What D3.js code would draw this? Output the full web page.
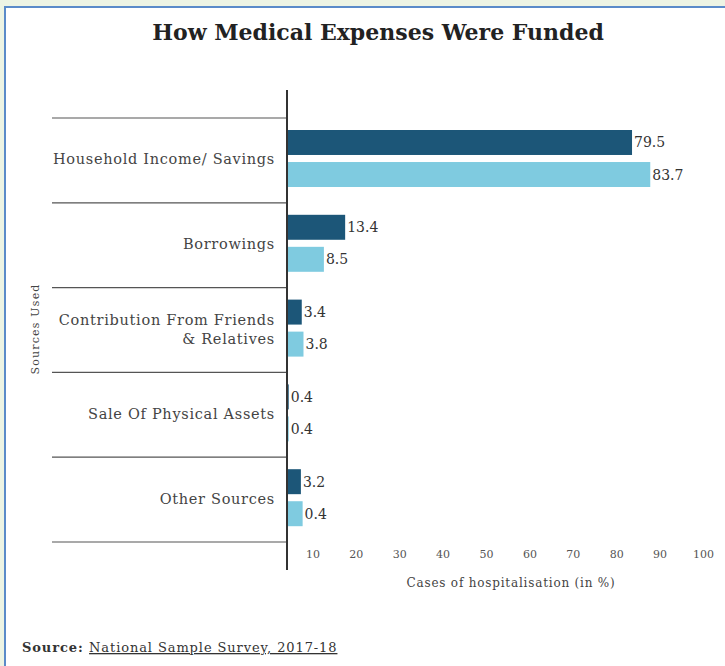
<!DOCTYPE html>
<html>
<head>
<meta charset="utf-8">
<script src="https://cdn.jsdelivr.net/npm/d3@7"></script>
<style>
  html, body { margin: 0; padding: 0; background: #edf4e4; }
  #frame {
    position: absolute; left: 4px; top: 6px; width: 721px; height: 660px;
    background: #ffffff; border-left: 2px solid #5b8bc9; border-top: 2px solid #5b8bc9;
    box-sizing: border-box;
  }
  svg { position: absolute; left: 0; top: 0; }
  text { font-family: "DejaVu Serif", "Liberation Serif", serif; }
</style>
</head>
<body>
<div id="frame"></div>
<svg id="chart"></svg>
<script>
// data
const categories = [
  "Household Income/ Savings",
  "Borrowings",
  "Contribution From Friends & Relatives",
  "Sale Of Physical Assets",
  "Other Sources"
];
const seriesKeys = ["dark", "light"];
const darkValues = [79.5, 13.4, 3.4, 0.4, 3.2];
const lightValues = [83.7, 8.5, 3.8, 0.4, 3.6];
const darkLabels = ["79.5", "13.4", "3.4", "0.4", "3.2"];
const lightLabels = ["83.7", "8.5", "3.8", "0.4", "0.4"];
const xTicks = [10, 20, 30, 40, 50, 60, 70, 80, 90, 100];

const colors = { dark: "#1c5678", light: "#7fcbe0" };

const width = 725, height = 666;
const margin = { top: 118, bottom: 124, left: 287, right: 4 };

const svg = d3.select("#chart")
  .attr("width", width)
  .attr("height", height);

// title
svg.append("text")
  .attr("x", 378)
  .attr("y", 40)
  .attr("text-anchor", "middle")
  .attr("font-size", "22px")
  .attr("font-weight", "bold")
  .attr("fill", "#222")
  .text("How Medical Expenses Were Funded");

const innerW = width - margin.left - margin.right;
const innerH = height - margin.top - margin.bottom;

const chart = svg.append("g")
  .attr("transform", `translate(${margin.left},${margin.top})`);

const x = d3.scaleLinear()
  .domain([0, 100])
  .range([0, 434]);

const y = d3.scaleBand()
  .domain(categories)
  .range([0, innerH]);

const ySub = d3.scaleBand()
  .domain(seriesKeys)
  .range([12, 69])
  .paddingInner(0.22);

const rows = categories.map((c, i) => ({
  cat: c,
  bars: [
    { key: "dark", value: darkValues[i], label: darkLabels[i] },
    { key: "light", value: lightValues[i], label: lightLabels[i] }
  ]
}));

// separators between categories
const edges = categories.map(c => y(c)).concat([y.range()[1]]);
chart.selectAll(".sep")
  .data(edges)
  .join("line")
  .attr("class", "sep")
  .attr("x1", -235)
  .attr("x2", 0)
  .attr("y1", d => d)
  .attr("y2", d => d)
  .attr("stroke", "#555")
  .attr("stroke-width", 1.2);

// category labels
const catLabels = chart.selectAll(".cat")
  .data(categories)
  .join("text")
  .attr("class", "cat")
  .attr("x", -12)
  .attr("y", d => y(d) + y.bandwidth() / 2)
  .attr("text-anchor", "end")
  .attr("font-size", "14.5px")
  .attr("letter-spacing", "0.7px")
  .attr("fill", "#444");

catLabels.each(function(d) {
  const t = d3.select(this);
  let lines = [d];
  if (d.startsWith("Contribution")) lines = ["Contribution From Friends", "& Relatives"];
  const lh = 19;
  lines.forEach((l, i) => {
    t.append("tspan")
      .attr("x", -12)
      .attr("dy", i === 0 ? (-(lines.length - 1) * lh / 2 + 4) + "px" : lh + "px")
      .text(l);
  });
});

// bars
const groups = chart.selectAll(".grp")
  .data(rows)
  .join("g")
  .attr("class", "grp")
  .attr("transform", d => `translate(0,${y(d.cat)})`);

groups.selectAll("rect")
  .data(d => d.bars)
  .join("rect")
  .attr("x", 0)
  .attr("y", d => ySub(d.key))
  .attr("width", d => x(d.value))
  .attr("height", ySub.bandwidth())
  .attr("fill", d => colors[d.key]);

groups.selectAll(".val")
  .data(d => d.bars)
  .join("text")
  .attr("class", "val")
  .attr("x", d => x(d.value) + 2)
  .attr("y", d => ySub(d.key) + ySub.bandwidth() / 2 + 5)
  .attr("font-size", "14px")
  .attr("fill", "#333")
  .text(d => d.label);

// x axis ticks (labels sit a bit left of their values, as in the original)
const xAxis = d3.axisBottom(x)
  .tickValues(xTicks)
  .tickSize(0)
  .tickPadding(8)
  .tickFormat(d3.format("d"));

const xAxisGroup = chart.append("g")
  .attr("class", "axis x-axis")
  .attr("transform", `translate(0,${innerH})`)
  .call(xAxis);

xAxisGroup.select(".domain").remove();
xAxisGroup.selectAll("text")
  .attr("dx", "-18px")
  .attr("font-family", "DejaVu Serif, serif")
  .attr("font-size", "11px")
  .attr("fill", "#555");

// vertical axis line
chart.append("line")
  .attr("x1", 0)
  .attr("x2", 0)
  .attr("y1", -28)
  .attr("y2", innerH + 28)
  .attr("stroke", "#333")
  .attr("stroke-width", 2);

// axis titles
svg.append("text")
  .attr("x", 511)
  .attr("y", 587)
  .attr("text-anchor", "middle")
  .attr("font-size", "12px")
  .attr("letter-spacing", "0.8px")
  .attr("fill", "#444")
  .text("Cases of hospitalisation (in %)");

svg.append("text")
  .attr("transform", "rotate(-90)")
  .attr("x", -329)
  .attr("y", 39)
  .attr("text-anchor", "middle")
  .attr("font-size", "11px")
  .attr("letter-spacing", "1.2px")
  .attr("fill", "#444")
  .text("Sources Used");

// source line
const src = svg.append("text")
  .attr("x", 22)
  .attr("y", 652)
  .attr("font-size", "13px")
  .attr("letter-spacing", "0.9px")
  .attr("fill", "#333");
src.append("tspan").attr("font-weight", "bold").text("Source: ");
src.append("tspan").attr("text-decoration", "underline").text("National Sample Survey, 2017-18");
</script>
</body>
</html>
